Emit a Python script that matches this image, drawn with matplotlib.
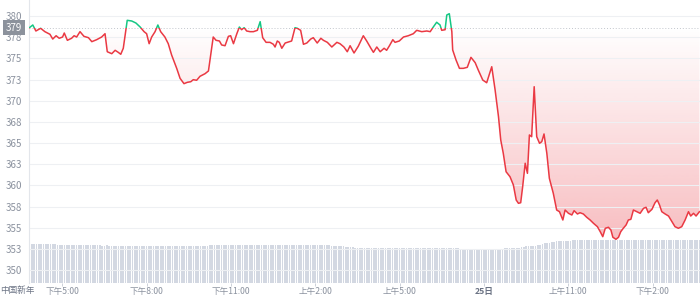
import numpy as np
import matplotlib
matplotlib.use("Agg")
import matplotlib.pyplot as plt
from matplotlib.patches import Rectangle
from matplotlib.path import Path
import matplotlib.transforms as mtransforms

plt.rcParams['font.family'] = ['Noto Sans CJK SC', 'DejaVu Sans']

# hours relative to 下午5:00 on the 24th
hours = [
    -1.17, -1.05, -0.94, -0.77, -0.62, -0.44, -0.34, -0.22, -0.11, 0.01,
    0.07, 0.18, 0.33, 0.42, 0.51, 0.63, 0.77, 0.93, 1.05, 1.22,
    1.40, 1.52, 1.60, 1.76, 1.88, 1.99, 2.08, 2.17, 2.31, 2.47,
    2.62, 2.77, 2.91, 3.00, 3.09, 3.18, 3.30, 3.40, 3.50, 3.65,
    3.77, 3.89, 4.07, 4.19, 4.33, 4.45, 4.57, 4.66, 4.78, 4.90,
    5.08, 5.20, 5.28, 5.37, 5.47, 5.59, 5.67, 5.79, 5.91, 5.99,
    6.09, 6.21, 6.30, 6.38, 6.47, 6.56, 6.68, 6.80, 6.94, 7.04,
    7.13, 7.25, 7.39, 7.51, 7.57, 7.65, 7.72, 7.81, 7.93, 8.08,
    8.16, 8.28, 8.36, 8.48, 8.58, 8.70, 8.84, 8.93, 9.07, 9.20,
    9.29, 9.43, 9.59, 9.77, 9.88, 10.02, 10.14, 10.24, 10.38, 10.53,
    10.71, 10.83, 10.98, 11.07, 11.19, 11.31, 11.45, 11.54, 11.64, 11.76,
    11.84, 11.99, 12.14, 12.31, 12.49, 12.61, 12.79, 12.97, 13.09, 13.20,
    13.32, 13.44, 13.50, 13.62, 13.68, 13.77, 13.86, 13.89, 14.01, 14.13,
    14.27, 14.41, 14.54, 14.69, 14.80, 14.96, 15.10, 15.28, 15.40, 15.52,
    15.60, 15.69, 15.79, 15.93, 16.05, 16.15, 16.23, 16.31, 16.38, 16.47,
    16.55, 16.62, 16.70, 16.79, 16.88, 16.98, 17.06, 17.14, 17.24, 17.33,
    17.47, 17.59, 17.69, 17.81, 17.89, 18.01, 18.13, 18.21, 18.33, 18.42,
    18.54, 18.66, 18.78, 18.90, 19.04, 19.14, 19.23, 19.32, 19.43, 19.52,
    19.59, 19.70, 19.79, 19.87, 19.96, 20.06, 20.14, 20.23, 20.32, 20.44,
    20.56, 20.68, 20.77, 20.85, 20.98, 21.09, 21.17, 21.25, 21.33, 21.45,
    21.57, 21.69, 21.80, 21.92, 22.04, 22.16, 22.28, 22.36, 22.46, 22.55,
    22.67,
]

price = [
    378.62, 378.94, 378.23, 378.55, 378.15, 377.84, 377.28, 377.67, 377.37, 377.52,
    377.99, 377.13, 377.37, 377.67, 377.52, 378.15, 377.60, 377.44, 376.97, 377.20,
    377.52, 377.91, 375.78, 375.55, 375.95, 375.71, 375.48, 376.19, 379.49, 379.41,
    379.17, 378.70, 378.15, 377.91, 376.73, 377.52, 378.15, 378.94, 378.15, 377.52,
    376.73, 375.39, 373.82, 372.64, 372.01, 372.17, 372.24, 372.48, 372.41, 372.88,
    373.19, 373.51, 375.39, 377.52, 377.13, 377.05, 376.58, 376.49, 377.60, 377.67,
    376.73, 377.91, 378.70, 378.38, 378.62, 378.23, 378.15, 378.15, 378.31, 379.33,
    377.44, 376.89, 376.89, 376.66, 376.34, 377.05, 376.89, 376.19, 376.81, 376.97,
    377.05, 378.62, 378.55, 378.31, 376.66, 376.81, 377.28, 377.44, 376.81, 377.37,
    377.13, 376.89, 376.34, 376.89, 376.73, 376.34, 375.78, 376.49, 375.63, 376.42,
    377.67, 377.05, 376.19, 375.71, 376.34, 375.78, 376.19, 375.95, 376.49, 377.20,
    376.89, 377.05, 377.52, 377.67, 377.91, 378.31, 378.15, 378.23, 378.15, 378.70,
    379.26, 378.94, 378.31, 378.38, 380.12, 380.27, 378.15, 375.99, 374.80, 373.82,
    373.82, 373.94, 375.12, 374.49, 373.62, 372.44, 372.12, 374.01, 371.26, 368.11,
    365.36, 363.79, 361.61, 361.02, 360.04, 358.27, 357.88, 357.95, 359.84, 362.61,
    361.42, 365.95, 365.75, 371.65, 365.75, 364.97, 365.16, 366.07, 363.79, 360.83,
    359.06, 357.09, 356.89, 355.91, 357.09, 356.70, 356.50, 357.01, 356.62, 356.77,
    356.62, 356.23, 355.91, 355.52, 355.12, 354.53, 353.94, 354.93, 355.05, 354.73,
    353.87, 353.63, 353.87, 354.53, 354.93, 355.32, 355.91, 355.99, 357.09, 356.89,
    356.70, 357.29, 357.41, 356.77, 357.17, 357.95, 358.27, 357.68, 356.89, 356.62,
    356.38, 355.71, 355.12, 354.93, 355.12, 355.91, 356.89, 356.38, 356.70, 356.38,
    356.89,
]

# volume per 5 minutes, one row per hour starting 下午3:50 (arbitrary units)
volume = [
    13.8, 13.9, 13.8, 13.8, 13.7, 13.8, 13.9, 13.8, 13.8, 13.7, 13.8, 13.8,
    13.6, 13.5, 13.5, 13.6, 13.5, 13.5, 13.4, 13.5, 13.5, 13.6, 13.5, 13.5,
    13.5, 13.4, 13.5, 13.5, 13.4, 13.3, 13.3, 13.2, 13.2, 13.3, 13.2, 13.2,
    13.2, 13.1, 13.2, 13.2, 13.2, 13.1, 13.2, 13.2, 13.1, 13.2, 13.2, 13.2,
    13.2, 13.2, 13.1, 13.2, 13.2, 13.2, 13.1, 13.2, 13.2, 13.2, 13.1, 13.2,
    13.2, 13.2, 13.2, 13.1, 13.2, 13.2, 13.2, 13.2, 13.1, 13.2, 13.2, 13.2,
    13.2, 13.2, 13.1, 13.2, 13.2, 13.3, 13.3, 13.4, 13.4, 13.4, 13.4, 13.4,
    13.4, 13.5, 13.4, 13.4, 13.4, 13.5, 13.4, 13.4, 13.4, 13.4, 13.5, 13.4,
    13.4, 13.4, 13.4, 13.5, 13.4, 13.4, 13.4, 13.3, 13.4, 13.4, 13.4, 13.4,
    13.4, 13.4, 13.3, 13.4, 13.4, 13.4, 13.4, 13.4, 13.3, 13.4, 13.4, 13.4,
    13.4, 13.4, 13.4, 13.3, 13.4, 13.4, 13.3, 13.3, 13.3, 13.2, 13.2, 13.2,
    13.1, 13.0, 12.9, 12.8, 12.8, 12.7, 12.6, 12.5, 12.4, 12.3, 12.3, 12.3,
    12.3, 12.3, 12.2, 12.3, 12.3, 12.3, 12.2, 12.3, 12.3, 12.3, 12.2, 12.3,
    12.3, 12.2, 12.3, 12.3, 12.3, 12.2, 12.3, 12.3, 12.2, 12.3, 12.3, 12.3,
    12.3, 12.3, 12.2, 12.3, 12.3, 12.3, 12.3, 12.2, 12.3, 12.3, 12.2, 12.3,
    12.3, 12.2, 12.2, 12.2, 12.1, 12.1, 12.1, 12.0, 12.0, 12.0, 12.0, 11.9,
    11.9, 11.9, 11.9, 11.9, 11.8, 11.9, 11.9, 11.9, 12.0, 12.0, 12.1, 12.2,
    12.2, 12.3, 12.3, 12.3, 12.4, 12.5, 12.6, 12.8, 12.9, 13.0, 13.1, 13.1,
    13.2, 13.4, 13.6, 13.8, 14.0, 14.2, 14.3, 14.5, 14.6, 14.8, 14.9, 14.9,
    14.9, 15.0, 15.0, 15.0, 15.1, 15.1, 15.1, 15.2, 15.2, 15.2, 15.2, 15.2,
    15.2, 15.2, 15.2, 15.1, 15.2, 15.2, 15.2, 15.2, 15.2, 15.1, 15.2, 15.2,
    15.2, 15.2, 15.2, 15.2, 15.2, 15.1, 15.2, 15.2, 15.2, 15.2, 15.2, 15.2,
    15.2, 15.1, 15.2, 15.2, 15.2, 15.2, 15.2, 15.2, 15.1, 15.2, 15.2, 15.2,
    15.2, 15.2, 15.2, 15.2, 15.2, 15.2, 15.2, 15.2, 15.2, 15.2, 15.2, 15.2,
]

open_price = 378.62
open_label = "379"
tick_hours = [0, 3, 6, 9, 12, 15, 18, 21]
tick_labels = ["下午5:00", "下午8:00", "下午11:00", "上午2:00", "上午5:00", "25日", "上午11:00", "下午2:00"]
first_label = "中国新年"
y_ticks = [350, 352.5, 355, 357.5, 360, 362.5, 365, 367.5, 370, 372.5, 375, 377.5, 380]

RED = "#ea3943"
GREEN = "#16c784"
GREY_TXT = "#8a919e"

t = np.array(hours)
p = np.array(price)
xmin, xmax = -1.185, 22.69
ymin, ymax = 348.47, 381.89

fig = plt.figure(figsize=(7, 2.96), dpi=100)
rect = [29 / 700, 13 / 296, 671 / 700, 283 / 296]

# volume bars underneath
axv = fig.add_axes(rect)
bar_t = -14 / 12 + np.arange(len(volume)) / 12
axv.bar(bar_t, volume, width=0.72 / 12, color="#d3d8e2", linewidth=0)
axv.set_xlim(xmin, xmax)
axv.set_ylim(0, 100)
axv.axis("off")

ax = fig.add_axes(rect)
ax.patch.set_visible(False)
ax.set_xlim(xmin, xmax)
ax.set_ylim(ymin, ymax)

# gradient fill between open price and the line where it is below
poly = ax.fill_between(t, np.minimum(p, open_price), open_price, color="none", lw=0)
clip = Path.make_compound_path(*poly.get_paths())
grad = np.zeros((256, 1, 4))
grad[:, 0, :3] = matplotlib.colors.to_rgb(RED)
grad[:, 0, 3] = np.linspace(0.0, 0.33, 256)  # row 0 at the top (open price)
im = ax.imshow(grad, extent=[xmin, xmax, p.min(), open_price], aspect="auto",
               origin="upper", zorder=1)
im.set_clip_path(clip, transform=ax.transData)

for yt in y_ticks:
    ax.axhline(yt, color="#eef0f3", lw=0.8, zorder=1.5)

ax.axhline(open_price, color="#c2c6cd", lw=0.7, ls=(0, (1, 2)), zorder=2)

# line: green above the open price, red below
lo = ax.plot(t, p, color=RED, lw=1.1, zorder=3, solid_joinstyle="round")[0]
hi = ax.plot(t, p, color=GREEN, lw=1.1, zorder=3, solid_joinstyle="round")[0]
lo.set_clip_path(Rectangle((xmin, ymin), xmax - xmin, open_price - ymin, transform=ax.transData))
hi.set_clip_path(Rectangle((xmin, open_price), xmax - xmin, ymax - open_price, transform=ax.transData))

ax.set_yticks(y_ticks)
ax.set_yticklabels([str(int(v + 0.5)) for v in y_ticks])
ax.tick_params(axis="y", length=0, pad=5, labelsize=7, labelcolor=GREY_TXT)
ax.set_xticks(tick_hours)
ax.set_xticklabels(tick_labels)
ax.tick_params(axis="x", length=2.5, width=0.6, color="#c5cad3", pad=0.3,
               labelsize=6.2, labelcolor=GREY_TXT)
for lab in ax.get_xticklabels():
    if lab.get_text() == "25日":
        lab.set_fontweight("bold")
        lab.set_color("#6b7384")

for side in ["top", "right", "bottom"]:
    ax.spines[side].set_visible(False)
ax.spines["left"].set_color("#e3e6eb")
ax.spines["left"].set_linewidth(0.8)

fig.text(0.0, 1.5 / 296, first_label, fontsize=6.2, color="#6b7384", ha="left", va="bottom")

# open price tag on the y axis
trans = mtransforms.blended_transform_factory(fig.transFigure, ax.transData)
ax.text(14 / 700, open_price, open_label, transform=trans, ha="center", va="center",
        fontsize=7, color="white", zorder=5, clip_on=False,
        bbox=dict(boxstyle="square,pad=0.25", fc="#8c929c", ec="none"))

fig.savefig("out.png", dpi=100)
